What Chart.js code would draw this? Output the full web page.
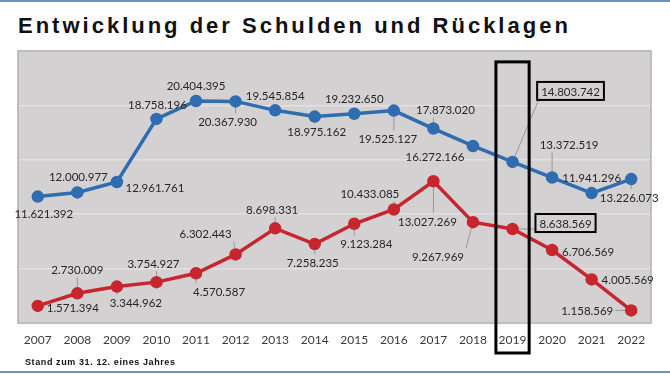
<!DOCTYPE html>
<html lang="de">
<head>
<meta charset="utf-8">
<title>Entwicklung der Schulden und Rücklagen</title>
<script src="https://cdn.jsdelivr.net/npm/chart.js@4"></script>
<style>
  html, body { margin: 0; padding: 0; background: #fff; }
  #wrap { position: relative; width: 670px; height: 374px; overflow: hidden; }
  #chart { position: absolute; left: 0; top: 0; }
  .rule { position: absolute; left: 0; width: 670px; height: 2px; background: #6a92ca; }
  #title {
    position: absolute; left: 18px; top: 15px; margin: 0;
    font: bold 22px "Liberation Sans", Arial, sans-serif; line-height: 22px;
    letter-spacing: 3px; color: #111; white-space: nowrap;
  }
  #note {
    position: absolute; left: 25px; top: 357px;
    font: bold 9px "Liberation Sans", Arial, sans-serif; line-height: 10px;
    letter-spacing: 0.6px; color: #111; white-space: nowrap;
  }
</style>
</head>
<body>
<div id="wrap">
  <div class="rule" style="top:0"></div>
  <h1 id="title">Entwicklung der Schulden und Rücklagen</h1>
  <canvas id="chart" width="670" height="374"></canvas>
  <div id="note">Stand zum 31. 12. eines Jahres</div>
  <div class="rule" style="top:371px"></div>
</div>
<script>
// values (EUR, Stand 31.12.)
const years = ['2007', '2008', '2009', '2010', '2011', '2012', '2013', '2014',
               '2015', '2016', '2017', '2018', '2019', '2020', '2021', '2022'];
const schulden = [11621392, 12000977, 12961761, 18758196, 20404395, 20367930, 19545854, 18975162,
                  19232650, 19525127, 17873020, 16272166, 14803742, 13372519, 11941296, 13226073];
const ruecklagen = [1571394, 2730009, 3344962, 3754927, 4570587, 6302443, 8698331, 7258235,
                    9123284, 10433085, 13027269, 9267969, 8638569, 6706569, 4005569, 1158569];
const highlightYear = '2019';

// label placement (text centre relative to point) and leader-line flags
const schuldenLabelPos = [[6, 17], [1, -16], [38, 5], [1, -15], [0, -16], [-8, 20], [0, -15], [2, 15],
                          [0, -15], [-6, 28], [12, -19], [-38, 10], [58, -71], [17, -33], [0, -16], [-2, 18]];
const ruecklagenLabelPos = [[35, 1], [0, -24], [19, 16], [-3, -19], [23, 18], [-30, -21], [-3, -19], [-2, 18],
                            [12, 20], [-24, -16], [-6, 40], [-35, 34], [53, -6], [36, 1], [36, 0], [-44, 0]];
const schuldenLeader = [0, 0, 1, 0, 0, 1, 0, 1, 0, 1, 1, 1, 1, 1, 0, 1];
const ruecklagenLeader = [0, 1, 1, 1, 1, 1, 1, 1, 1, 1, 1, 1, 1, 0, 0, 1];

const BLUE = '#2f6cb0';
const RED = '#c8262f';
const LABEL_FONT = '11.5px Lato, "Open Sans", sans-serif';

function fmt(v) {
  return String(v).replace(/\B(?=(\d{3})+(?!\d))/g, '.');
}

function labelRect(ctx, pt, off, text) {
  const w = ctx.measureText(text).width;
  const cx = pt.x + off[0], cy = pt.y + off[1];
  return { cx, cy, x0: cx - w / 2, x1: cx + w / 2, y0: cy - 7, y1: cy + 7 };
}

const labelPlugin = {
  id: 'labelPlugin',
  beforeDraw(chart) {
    const { ctx, chartArea: a } = chart;
    ctx.save();
    ctx.fillStyle = '#d3d1d2';
    ctx.fillRect(a.left, a.top, a.right - a.left, a.bottom - a.top);
    ctx.restore();
  },
  beforeDatasetsDraw(chart) {
    const { ctx } = chart;
    ctx.save();
    ctx.strokeStyle = '#b2b0b1';
    ctx.lineWidth = 1.5;
    const a = chart.chartArea;
    ctx.strokeRect(a.left, a.top, a.right - a.left, a.bottom - a.top);
    ctx.font = LABEL_FONT;
    ctx.strokeStyle = '#9a9899';
    ctx.lineWidth = 1;
    chart.data.datasets.forEach((ds, di) => {
      chart.getDatasetMeta(di).data.forEach((pt, i) => {
        if (!ds.leader[i]) return;
        const r = labelRect(ctx, pt, ds.labelPos[i], fmt(ds.data[i]));
        const px = Math.min(Math.max(pt.x, r.x0 - 2), r.x1 + 2);
        const py = Math.min(Math.max(pt.y, r.y0 - 1), r.y1 + 1);
        ctx.beginPath();
        ctx.moveTo(pt.x, pt.y);
        ctx.lineTo(px, py);
        ctx.stroke();
      });
    });
    ctx.restore();
  },
  afterDatasetsDraw(chart) {
    const { ctx } = chart;
    ctx.save();
    ctx.font = LABEL_FONT;
    ctx.textAlign = 'center';
    ctx.textBaseline = 'middle';
    chart.data.datasets.forEach((ds, di) => {
      chart.getDatasetMeta(di).data.forEach((pt, i) => {
        const text = fmt(ds.data[i]);
        const r = labelRect(ctx, pt, ds.labelPos[i], text);
        if (chart.data.labels[i] === highlightYear) {
          ctx.fillStyle = '#d3d1d2';
          ctx.fillRect(r.x0 - 4, r.y0 - 2, r.x1 - r.x0 + 8, r.y1 - r.y0 + 4);
          ctx.strokeStyle = '#000';
          ctx.lineWidth = 2;
          ctx.strokeRect(r.x0 - 4, r.y0 - 2, r.x1 - r.x0 + 8, r.y1 - r.y0 + 4);
        }
        ctx.fillStyle = '#262626';
        ctx.fillText(text, r.cx, r.cy + 1);
      });
    });
    ctx.restore();
  },
  afterDraw(chart) {
    const { ctx, scales: { x, y }, chartArea: a } = chart;
    const i = chart.data.labels.indexOf(highlightYear);
    const cx = x.getPixelForValue(i);
    const half = (x.getPixelForValue(1) - x.getPixelForValue(0)) * 0.42;
    ctx.save();
    ctx.strokeStyle = '#000';
    ctx.lineWidth = 3;
    ctx.strokeRect(cx - half, y.getPixelForValue(24000000), half * 2, a.bottom + 30 - y.getPixelForValue(24000000));
    ctx.restore();
  }
};

new Chart(document.getElementById('chart').getContext('2d'), {
  type: 'line',
  data: {
    labels: years,
    datasets: [{
      label: 'Schulden',
      data: schulden,
      labelPos: schuldenLabelPos,
      leader: schuldenLeader,
      borderColor: BLUE,
      backgroundColor: BLUE,
      borderWidth: 3.5,
      pointRadius: 4.5,
      tension: 0
    }, {
      label: 'Rücklagen',
      data: ruecklagen,
      labelPos: ruecklagenLabelPos,
      leader: ruecklagenLeader,
      borderColor: RED,
      backgroundColor: RED,
      borderWidth: 3.5,
      pointRadius: 4.5,
      tension: 0
    }]
  },
  options: {
    responsive: false,
    animation: false,
    devicePixelRatio: 1,
    layout: { padding: { top: 51, left: 18, right: 19, bottom: 0 } },
    scales: {
      x: {
        offset: true,
        grid: { display: false, drawTicks: false },
        border: { display: false },
        ticks: { padding: 10, color: '#3a3a3a', font: { family: 'Lato', size: 12 }, maxRotation: 0 },
        afterFit(s) { s.height = 51; }
      },
      y: {
        min: 0,
        max: 25000000,
        ticks: { display: false, stepSize: 5000000 },
        grid: { color: '#e2e0e1', lineWidth: 1.5, drawTicks: false },
        border: { display: false },
        afterFit(s) { s.width = 0; }
      }
    },
    plugins: {
      legend: { display: false },
      title: { display: false },
      tooltip: { enabled: false }
    }
  },
  plugins: [labelPlugin]
});
</script>
</body>
</html>
